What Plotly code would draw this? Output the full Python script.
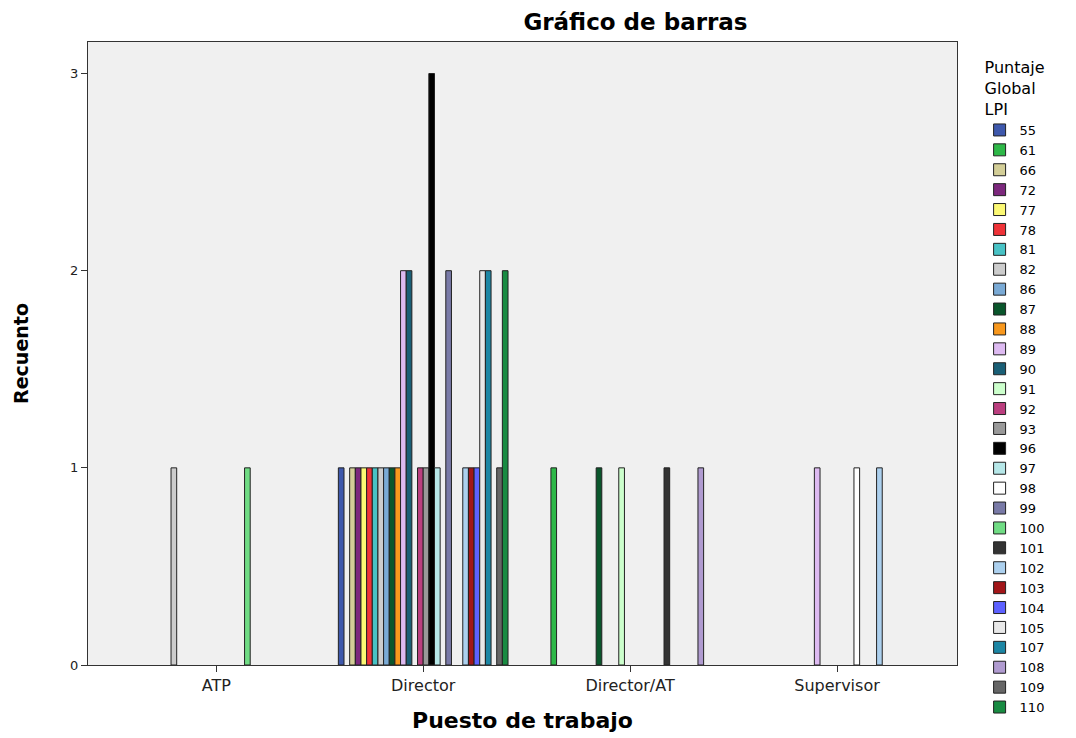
import plotly.graph_objects as go

categories = ["ATP", "Director", "Director/AT", "Supervisor"]
scores = [55, 61, 66, 72, 77, 78, 81, 82, 86, 87, 88, 89, 90, 91, 92, 93, 96,
          97, 98, 99, 100, 101, 102, 103, 104, 105, 107, 108, 109, 110]
colors = ["#3E58AC", "#2EB848", "#D3CE97", "#7C287D", "#FBF873", "#EF3338",
          "#48C2C5", "#CCCCCC", "#7AAAD5", "#0A562C", "#F8981D", "#DDBAF1",
          "#1A5F76", "#CCFFCC", "#BB3F7F", "#999999", "#000000", "#B6E7E8",
          "#FFFFFF", "#797AA7", "#70DC84", "#333333", "#ACD0EE", "#A21619",
          "#5D61FF", "#E8E8E8", "#1C86A4", "#B09BD0", "#666666", "#198B42"]

atp_counts = [0, 0, 0, 0, 0, 0, 0, 1, 0, 0, 0, 0, 0, 0, 0,
              0, 0, 0, 0, 0, 1, 0, 0, 0, 0, 0, 0, 0, 0, 0]
director_counts = [1, 0, 1, 1, 1, 1, 1, 1, 1, 1, 1, 2, 2, 0, 1,
                   1, 3, 1, 0, 2, 0, 0, 1, 1, 1, 2, 2, 0, 1, 2]
director_at_counts = [0, 1, 0, 0, 0, 0, 0, 0, 0, 1, 0, 0, 0, 1, 0,
                      0, 0, 0, 0, 0, 0, 1, 0, 0, 0, 0, 0, 1, 0, 0]
supervisor_counts = [0, 0, 0, 0, 0, 0, 0, 0, 0, 0, 0, 1, 0, 0, 0,
                     0, 0, 0, 1, 0, 0, 0, 1, 0, 0, 0, 0, 0, 0, 0]

by_category = [atp_counts, director_counts, director_at_counts, supervisor_counts]

fig = go.Figure()
for i, s in enumerate(scores):
    ys = [row[i] if row[i] > 0 else None for row in by_category]
    fig.add_trace(go.Bar(
        x=categories, y=ys, name=str(s),
        marker=dict(color=colors[i], line=dict(color="#222222", width=1)),
    ))

FONT = "DejaVu Sans, Verdana, sans-serif"
fig.update_layout(
    width=1076, height=738,
    barmode="group", bargap=0.18, bargroupgap=0,
    paper_bgcolor="white", plot_bgcolor="#F0F0F0",
    margin=dict(l=88, r=119, t=42, b=73, autoexpand=False),
    font=dict(family=FONT, size=13, color="#000000"),
    title=dict(text="<b>Gráfico de barras</b>", xref="paper", x=0.63, xanchor="center",
               y=0.97, yanchor="middle", font=dict(size=23, family=FONT)),
    showlegend=True,
    legend=dict(
        title=dict(text="Puntaje<br>Global<br>LPI", side="top center",
                   font=dict(size=16, family=FONT)),
        x=1.026, xanchor="left", y=0.983, yanchor="top",
        font=dict(size=13, family=FONT),
        bgcolor="rgba(0,0,0,0)", tracegroupgap=0, traceorder="normal",
        maxheight=720,
    ),
    xaxis=dict(
        range=[-0.62, 3.58], showgrid=False, zeroline=False, automargin=False,
        showline=True, linecolor="#333333", linewidth=1, mirror=True,
        ticks="outside", ticklen=6, tickcolor="#333333",
        tickfont=dict(size=16, color="#222222"),
        title=dict(text="<b>Puesto de trabajo</b>", font=dict(size=22), standoff=18),
    ),
    yaxis=dict(
        range=[0, 3.16], tickvals=[0, 1, 2, 3], showgrid=False, zeroline=False,
        automargin=False,
        showline=True, linecolor="#333333", linewidth=1, mirror=True,
        ticks="outside", ticklen=6, tickcolor="#333333",
        tickfont=dict(size=13, color="#222222"),
        title=dict(text="<b>Recuento</b>", font=dict(size=19), standoff=36),
    ),
)

fig.write_html("out.html", config={"displayModeBar": False},
               post_script="document.body.style.margin='0';")
